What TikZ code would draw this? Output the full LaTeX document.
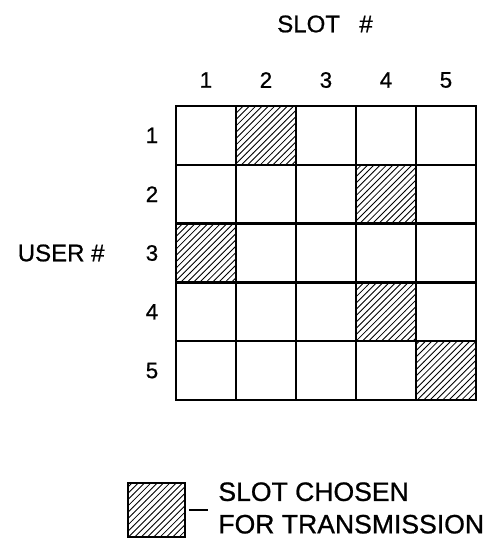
\documentclass[tikz,border=0pt]{standalone}
\usepackage{fontspec}
\setmainfont{Liberation Sans}[FakeBold=0.8]
\usetikzlibrary{patterns}

\begin{document}
\begin{tikzpicture}[
    cell/.style={draw, line width=1.1pt, minimum width=1cm, minimum height=0.98cm, inner sep=0pt},
    chosen/.style={cell, pattern=north east lines},
    nummer/.style={font=\fontsize{10.6}{12}\selectfont},
    titel/.style={font=\fontsize{11.4}{14}\selectfont}
  ]
  \useasboundingbox (-2.933,1.767) rectangle (5.217,-7.217);
  \foreach \s [count=\r] in {2,4,1,4,5}
    \foreach \c in {1,...,5} {
      \ifnum\c=\s \def\stil{chosen}\else\def\stil{cell}\fi
      \node[\stil] (z\r\c) at (\c-0.5,{-(\r-0.5)*0.98}) {};
    }
  \foreach \c in {1,...,5}
    \node[nummer] (slot\c) at (\c-0.5,0.433) {\c};
  \foreach \r in {1,...,5}
    \node[nummer] (user\r) at (-0.4,{-(\r-0.5)*0.98}) {\r};
  \node[titel] (slottitel) at (2.483,1.367) {SLOT\hspace{0.8em}\#};
  \node[titel, anchor=east, inner sep=0pt] (usertitel) at (-1.183,-2.45) {USER \#};
  \node[draw, line width=1.1pt, pattern=north east lines, minimum width=0.95cm, minimum height=0.9cm, inner sep=0pt] (muster) at (-0.325,-6.733) {};
  \node[anchor=west, align=left, inner sep=0pt, font=\fontsize{12.6}{15.4}\selectfont] (erklaerung) at (0.7,-6.7) {SLOT CHOSEN\\FOR TRANSMISSION};
  \draw[line width=0.9pt] ([xshift=0.05cm]muster.east) -- ([xshift=-0.17cm]erklaerung.west |- muster.east);
\end{tikzpicture}
\end{document}
